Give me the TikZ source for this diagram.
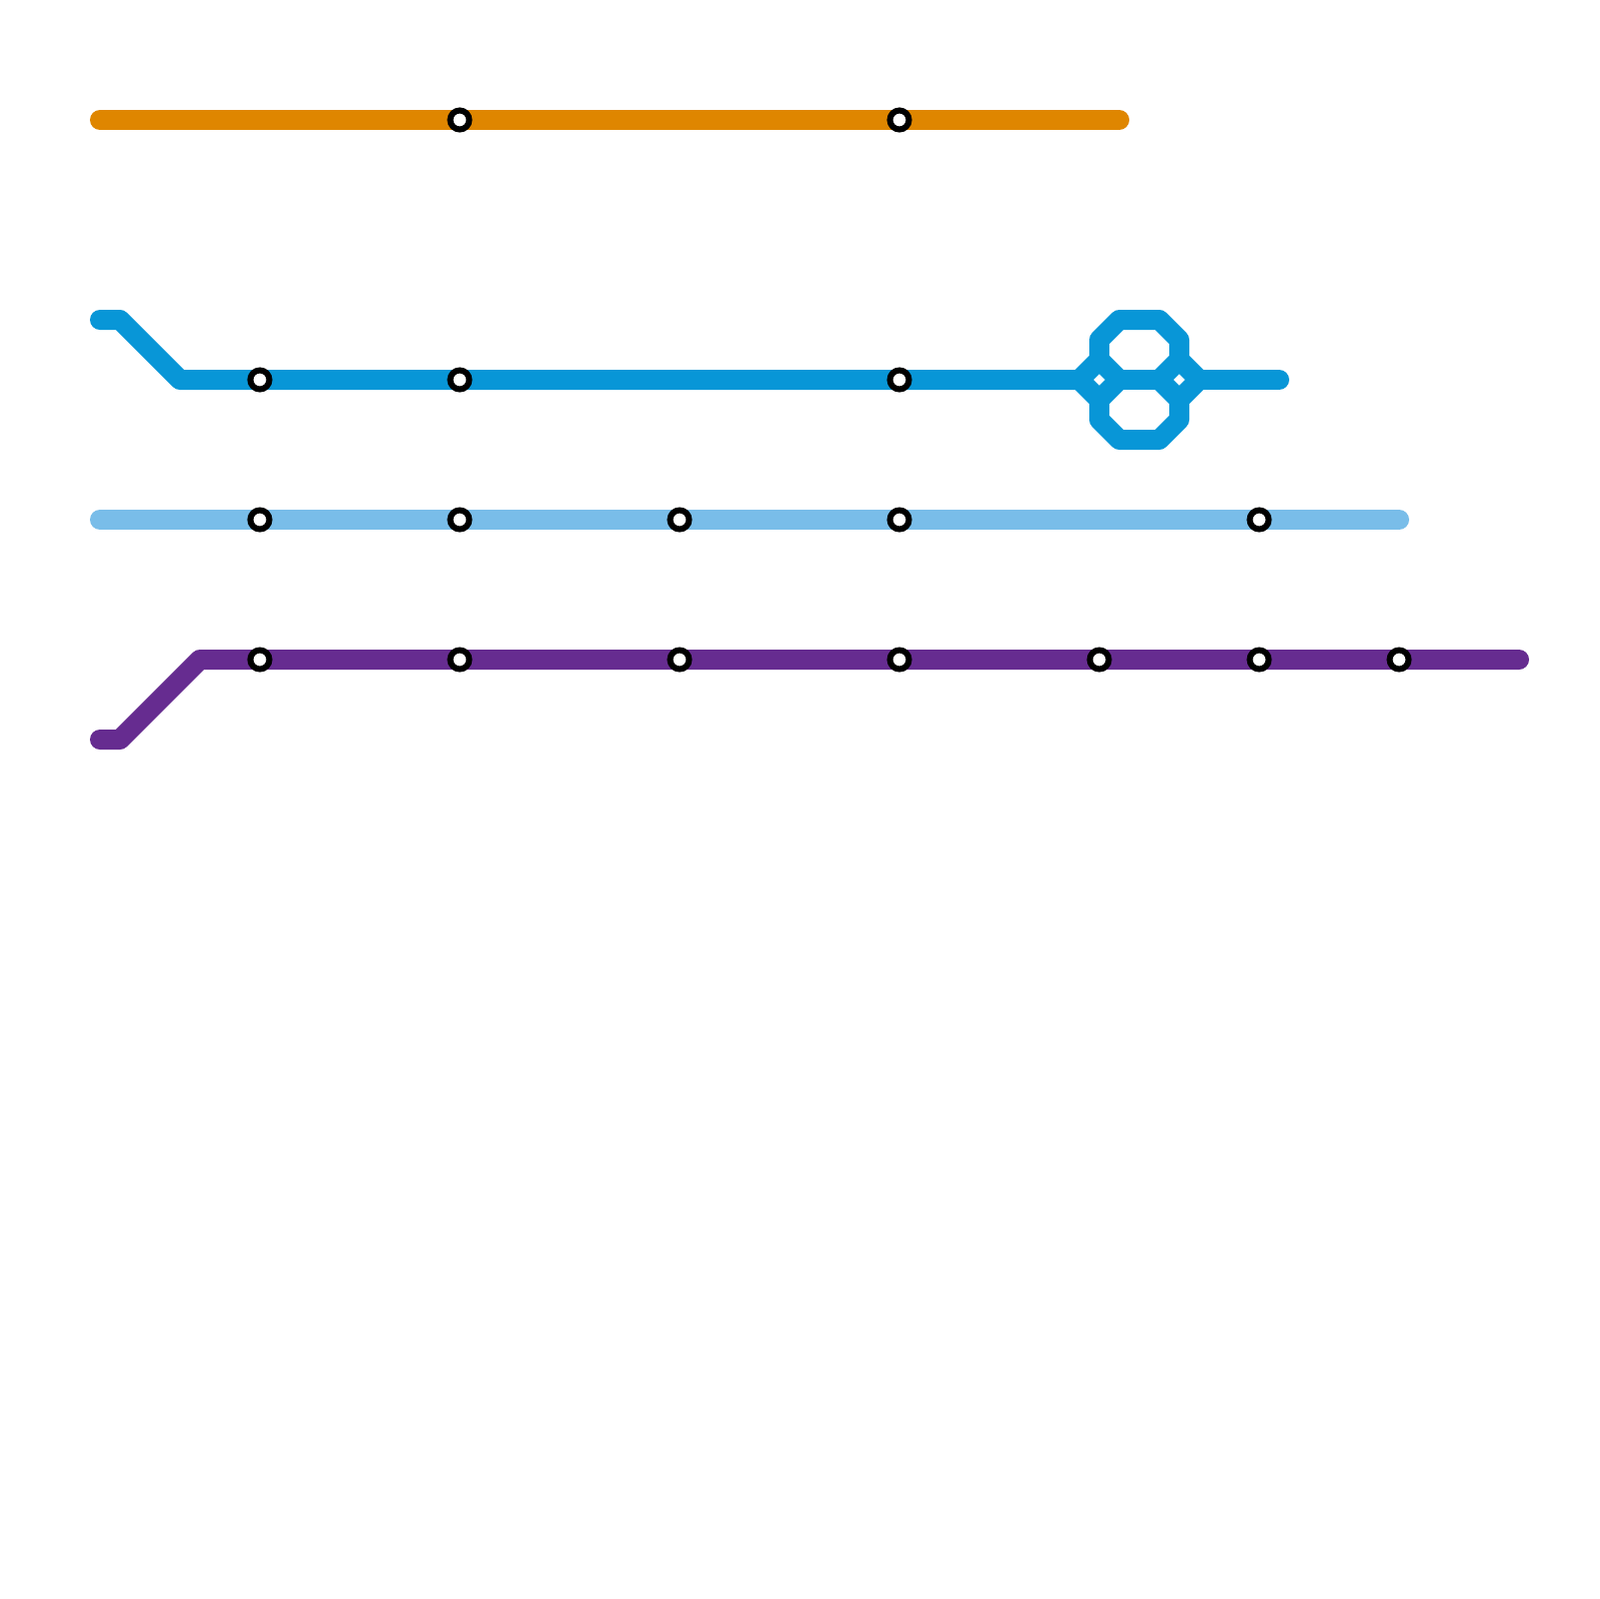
\documentclass[tikz,border=0pt]{standalone}
\usetikzlibrary{calc}
\definecolor{mmorange}{HTML}{DF8600}
\definecolor{mmblue}{HTML}{0896D7}
\definecolor{mmsky}{HTML}{79BDE9}
\definecolor{mmpurple}{HTML}{662C90}
\tikzset{
  metroline/.style={line width=2mm,line cap=round,line join=round},
  metrostation/.style={draw=black,circle,fill=white,line width=0.6mm,
    minimum size=1.9mm,inner sep=0pt},
}

\begin{document}
\begin{tikzpicture}[x=0.1mm,y=-0.1mm]
  \path[use as bounding box] (0,0) rectangle (1600,1600);
  % line ends and bends
  \coordinate (oa) at (100,120);
  \coordinate (ob) at (1120,120);
  \coordinate (ba) at (100,320);
  \coordinate (bb) at (120,320);
  \coordinate (bc) at (180,380);
  \coordinate (bd) at (1280,380);
  \coordinate (sa) at (100,520);
  \coordinate (sb) at (1400,520);
  \coordinate (pa) at (100,740);
  \coordinate (pb) at (120,740);
  \coordinate (pc) at (200,660);
  \coordinate (pd) at (1520,660);
  % the loop
  \coordinate (la) at (1100,340);
  \coordinate (lb) at (1120,320);
  \coordinate (lc) at (1160,320);
  \coordinate (ld) at (1180,340);
  \coordinate (le) at (1180,360);
  \coordinate (lf) at (1200,380);
  \coordinate (lg) at (1180,400);
  \coordinate (lh) at (1180,420);
  \coordinate (li) at (1160,440);
  \coordinate (lj) at (1120,440);
  \coordinate (lk) at (1100,420);
  \coordinate (ll) at (1100,400);
  \coordinate (lm) at (1080,380);
  \coordinate (ln) at (1100,360);
  \coordinate (lo) at (1120,380);
  \coordinate (lp) at (1160,380);

  \draw[metroline,mmorange] (oa)--(ob);
  \draw[metroline,mmblue] (ba)--(bb)--(bc)--(lm);
  \draw[metroline,mmblue] (lf)--(bd);
  \draw[metroline,mmblue] (la)--(lb)--(lc)--(ld)--(le)--(lf)--(lg)--(lh)--(li)--(lj)--(lk)--(ll)--(lm)--(ln)--cycle;
  \draw[metroline,mmblue] (ln)--(lo)--(ll);
  \draw[metroline,mmblue] (le)--(lp)--(lg);
  \draw[metroline,mmblue] (lo)--(lp);
  \draw[metroline,mmsky] (sa)--(sb);
  \draw[metroline,mmpurple] (pa)--(pb)--(pc)--(pd);

  % stations
  \foreach \x/\name in {460/a,900/b}
    \node[metrostation] (o\name) at (\x,120) {};
  \foreach \x/\name in {260/a,460/b,900/c}
    \node[metrostation] (t\name) at (\x,380) {};
  \foreach \x/\name in {260/a,460/b,680/c,900/d,1260/e}
    \node[metrostation] (u\name) at (\x,520) {};
  \foreach \x/\name in {260/a,460/b,680/c,900/d,1100/e,1260/f,1400/g}
    \node[metrostation] (v\name) at (\x,660) {};
\end{tikzpicture}
\end{document}
